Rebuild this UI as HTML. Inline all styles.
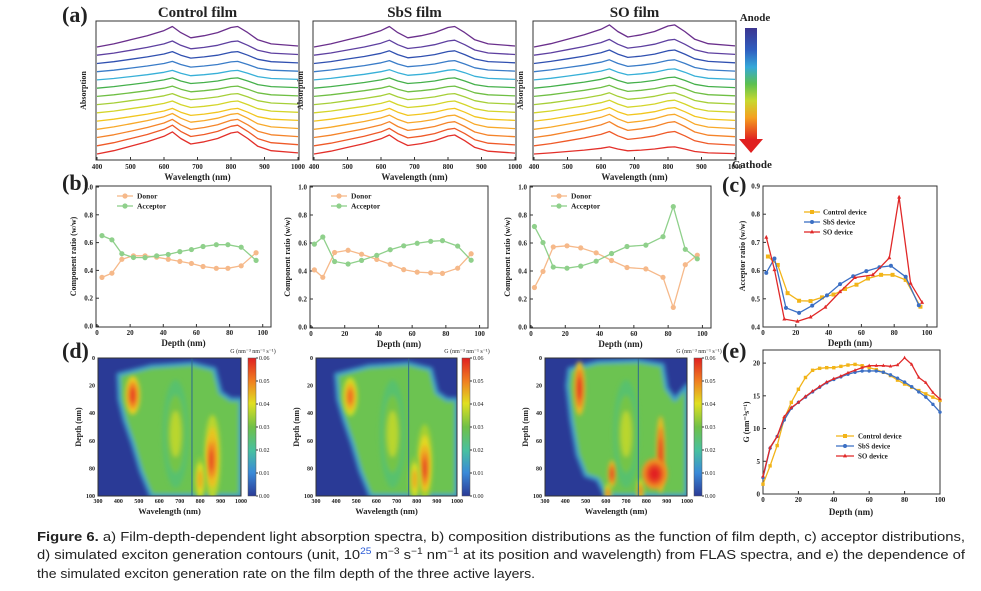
<!DOCTYPE html>
<html><head><meta charset="utf-8"><style>
html,body{margin:0;padding:0;background:#fff;}
svg{display:block;font-family:"Liberation Serif",serif;}
.t{font-weight:bold;fill:#222;}
</style></head><body>
<svg id="fig" width="981" height="591" viewBox="0 0 981 591" xmlns="http://www.w3.org/2000/svg">
<defs>
<linearGradient id="arrowGrad" x1="0" y1="0" x2="0" y2="1">
<stop offset="0" stop-color="#3c3590"/><stop offset="0.2" stop-color="#2f5fc0"/><stop offset="0.35" stop-color="#35a8d8"/><stop offset="0.5" stop-color="#5cc050"/><stop offset="0.65" stop-color="#c8d830"/><stop offset="0.8" stop-color="#f5a020"/><stop offset="1" stop-color="#e02020"/>
</linearGradient>
<linearGradient id="cbGrad" x1="0" y1="1" x2="0" y2="0">
<stop offset="0" stop-color="#2a3a96"/><stop offset="0.17" stop-color="#3a8ad8"/><stop offset="0.33" stop-color="#48c0a0"/><stop offset="0.5" stop-color="#70c048"/><stop offset="0.67" stop-color="#e0e020"/><stop offset="0.83" stop-color="#f08020"/><stop offset="1" stop-color="#e02020"/>
</linearGradient>
<filter id="blur2" x="-20%" y="-20%" width="140%" height="140%"><feGaussianBlur stdDeviation="2"/></filter>
<filter id="blur3" x="-50%" y="-50%" width="200%" height="200%"><feGaussianBlur stdDeviation="2"/></filter>
</defs>
</svg>
<script>
// ---------- DATA ----------
const specWl = [400,450,500,550,600,625,650,680,720,760,800,820,850,880,920,1000];
const specShape = [0,0.15,0.35,0.55,0.8,1.0,0.7,0.45,0.55,0.7,0.95,1.0,0.7,0.35,0.15,0.05];
const specAmpControl = [2.8,2.6,2.3,2.0,1.6,1.5,1.4,1.3,1.3,1.2,1.3,1.5,1.8,2.6];
const specAmpSbS = [2.4,2.2,2.0,1.8,1.6,1.5,1.4,1.3,1.3,1.3,1.4,1.6,1.9,2.6];
const specAmpSO = [0.9,1.8,2.0,1.9,1.7,1.6,1.5,1.4,1.4,1.4,1.5,1.7,2.0,2.8];
const specColors = ["#e3302a","#ef5a28","#f5842a","#f8a92a","#f2c61f","#d4d52a","#a6cf38","#6fbf44","#45b04b","#38b0d8","#3a7cc8","#3050b0","#5e40a0","#6a2f8c"];
const xTicksWl = [400,500,600,700,800,900,1000];

const depthCtrl = [3,9,15,22,29,36,43,50,57,64,72,79,87,96];
const accCtrl = [0.65,0.62,0.52,0.493,0.492,0.505,0.515,0.535,0.55,0.572,0.585,0.585,0.567,0.472];
const donCtrl = [0.35,0.38,0.48,0.505,0.505,0.495,0.48,0.465,0.45,0.428,0.415,0.415,0.433,0.527];
const depthSbS = [2,7,14,22,30,39,47,55,63,71,78,87,95];
const accSbS = [0.592,0.643,0.468,0.45,0.476,0.512,0.552,0.58,0.598,0.612,0.617,0.578,0.477];
const donSbS = [0.408,0.355,0.532,0.548,0.52,0.483,0.448,0.41,0.392,0.387,0.383,0.42,0.523];
const depthSO = [2,7,13,21,29,38,47,56,67,77,83,90,97];
const accSO = [0.718,0.603,0.428,0.42,0.435,0.47,0.525,0.575,0.585,0.645,0.86,0.555,0.487];
const donSO = [0.282,0.397,0.572,0.58,0.565,0.53,0.475,0.425,0.415,0.355,0.14,0.445,0.513];

const genDepth = [0,4,8,12,16,20,24,28,32,36,40,44,48,52,56,60,64,68,72,76,80,84,88,92,96,100];
const genCtrl = [1.5,4.3,7.4,11.5,14,16,17.8,18.9,19.2,19.3,19.3,19.5,19.7,19.8,19.6,19.3,19.0,18.6,18.1,17.4,16.8,16.3,15.8,15.3,14.8,14.3];
const genSbS = [2.5,7.0,8.8,11.3,13.1,14.0,14.8,15.6,16.3,17.0,17.5,17.9,18.3,18.6,18.8,18.8,18.8,18.6,18.2,17.7,17.1,16.4,15.6,14.8,13.7,12.5];
const genSO = [2.7,7.1,8.8,11.8,13.2,14.0,14.9,15.7,16.4,17.1,17.6,18.0,18.5,18.9,19.3,19.6,19.6,19.6,19.5,19.7,20.8,19.8,17.8,17.0,15.5,14.5];

// heatmap: green-region outline [wavelength, depth]; hotspots [wavelength, depth, rWl, rDepth, level]
const heatRegionCtrl = [[400,12],[560,6],[760,4],[870,8],[900,25],[950,30],[1000,30],[1000,100],[560,100],[510,82],[470,62],[430,45],[405,30]];
const heatBlobsCtrl = [[470,27,26,10,0.056],[680,55,45,28,0.036],[860,72,28,22,0.05],[855,74,16,13,0.058],[800,88,20,12,0.046]];
const heatRegionSbS = [[400,12],[560,6],[760,4],[870,8],[900,25],[950,30],[1000,30],[1000,100],[570,100],[520,82],[480,62],[440,45],[410,30]];
const heatBlobsSbS = [[470,28,26,10,0.052],[680,55,45,28,0.036],[840,76,28,20,0.048],[840,80,16,12,0.058],[790,88,20,12,0.046]];
const heatRegionSO = [[420,8],[560,3],[760,2],[880,5],[900,22],[940,30],[1000,20],[1000,100],[600,100],[560,88],[500,85],[460,70],[430,45],[410,20]];
const heatBlobsSO = [[470,22,20,14,0.058],[700,55,45,28,0.036],[870,70,16,20,0.058],[840,84,45,8,0.062],[630,84,14,7,0.058],[770,96,12,6,0.052],[610,98,12,5,0.052]];
const cbTicks = [0.00,0.01,0.02,0.03,0.04,0.05,0.06];
const depthTicks = [0,20,40,60,80,100];

// ---------- HELPERS ----------
const svg = document.getElementById('fig');
const NS = "http://www.w3.org/2000/svg";
function mk(tag, attrs, parent){ const e=document.createElementNS(NS,tag); for(const k in attrs) e.setAttribute(k,attrs[k]); (parent||svg).appendChild(e); return e; }
function txt(x,y,s,size,anchor,parent,extra){ const e=mk('text',Object.assign({x:x,y:y,'font-size':size,'text-anchor':anchor||'middle',class:'t'},extra||{}),parent); e.textContent=s; return e; }
function lin(d0,d1,r0,r1){ return v=> r0+(v-d0)*(r1-r0)/(d1-d0); }
function levelColor(v){
  const stops=[[0,[42,58,150]],[0.01,[58,150,220]],[0.02,[80,192,120]],[0.03,[120,196,64]],[0.04,[228,226,32]],[0.05,[242,128,32]],[0.06,[226,32,32]]];
  if(v<=0) return 'rgb(42,58,150)';
  for(let i=0;i<stops.length-1;i++){ if(v<=stops[i+1][0]){ const t=(v-stops[i][0])/(stops[i+1][0]-stops[i][0]); const c=stops[i][1].map((a,j)=>Math.round(a+(stops[i+1][1][j]-a)*t)); return 'rgb('+c.join(',')+')'; } }
  return 'rgb(226,32,32)';
}

// panel labels
[['(a)',62,22],['(b)',62,190],['(c)',722,192],['(d)',62,358],['(e)',722,358]].forEach(p=>{
  const e=txt(p[1],p[2],p[0],22,'start');
  
  
});

// ---------- PANEL A ----------
function spectraPanel(x0,x1,y0,y1,amps,title,key){
  const g=mk('g',{});
  
  
  const X=lin(400,1000,x0+1,x1-1);
  const base=y1-6, step=(y1-y0-32)/13, unit=7.9;
  specColors.forEach((c,i)=>{
    const pts=specWl.map((w,j)=>X(w)+','+(base-i*step-specShape[j]*amps[i]*unit).toFixed(1)).join(' ');
    const p=mk('polyline',{points:pts,fill:'none',stroke:c,'stroke-width':1.3,'stroke-linejoin':'round'},g);
    
    
  });
  mk('rect',{x:x0,y:y0,width:x1-x0,height:y1-y0,fill:'none',stroke:'#333','stroke-width':1},g);
  xTicksWl.forEach(t=>{ mk('line',{x1:X(t),x2:X(t),y1:y1,y2:y1-3,stroke:'#333'},g); const e=txt(X(t),y1+9,t,7,'middle',g);   });
  const xl=txt((x0+x1)/2,y1+20,'Wavelength (nm)',9,'middle',g);
  
  
  const yl=txt(0,0,'Absorption',8,'middle',g,{transform:'translate('+(x0-10)+','+((y0+y1)/2)+') rotate(-90)'});
  
  
  const tt=txt((x0+x1)/2,y0-4,title,15,'middle',g);
  
  
}
spectraPanel(96,299,21,160,specAmpControl,'Control film','control');
spectraPanel(313,516,21,160,specAmpSbS,'SbS film','sbs');
spectraPanel(533,736,21,160,specAmpSO,'SO film','so');

// anode-cathode arrow
const arr=mk('g',{});


mk('rect',{x:745,y:28,width:12,height:112,fill:'url(#arrowGrad)'},arr);
mk('polygon',{points:'739,139 763,139 751,153',fill:'#e02020'},arr);
const an=txt(755,21,'Anode',11,'middle');  
const ca=txt(752,168,'Cathode',11,'middle');  

function marker(g,shape,x,y,c,r){
  let m;
  if(shape==='sq') m=mk('rect',{x:x-r,y:y-r,width:2*r,height:2*r,fill:c},g);
  else if(shape==='tri') m=mk('polygon',{points:(x)+','+(y-r-0.5)+' '+(x-r)+','+(y+r*0.7)+' '+(x+r)+','+(y+r*0.7),fill:c},g);
  else m=mk('circle',{cx:x,cy:y,r:r,fill:c},g);
  return m;
}
function axesBox(g,x0,x1,y0,y1,X,Y,xt,yt,fmt){
  mk('rect',{x:x0,y:y0,width:x1-x0,height:y1-y0,fill:'none',stroke:'#333','stroke-width':1},g);
  xt.forEach(t=>{ mk('line',{x1:X(t),x2:X(t),y1:y1,y2:y1-3,stroke:'#333'},g); const e=txt(X(t),y1+8,t,7,'middle',g);   });
  yt.forEach(t=>{ mk('line',{x1:x0,x2:x0+3,y1:Y(t),y2:Y(t),stroke:'#333'},g); const e=txt(x0-3,Y(t)+2.5,fmt(t),7,'end',g);   });
}

// ---------- PANEL B ----------
function compPanel(x0,x1,y0,y1,depth,don,acc,key){
  const g=mk('g',{});
  
  
  const X=lin(0,105,x0+1,x1), Y=lin(0,1,y1-1,y0+1);
  axesBox(g,x0,x1,y0,y1,X,Y,[0,20,40,60,80,100],[0,0.2,0.4,0.6,0.8,1.0],t=>t.toFixed(1));
  [[don,'#f6b98a','donor'],[acc,'#8fd08b','acceptor']].forEach(s=>{
    const pl=mk('polyline',{points:depth.map((d,i)=>X(d)+','+Y(s[0][i])).join(' '),fill:'none',stroke:s[1],'stroke-width':1.3},g);
    
    
    depth.forEach((d,i)=>{ const m=marker(g,'c',X(d),Y(s[0][i]),s[1],2.6);   });
  });
  [['Donor','#f6b98a',196],['Acceptor','#8fd08b',206]].forEach(l=>{
    const lg=mk('g',{},g);
    
    
    mk('line',{x1:x0+21,x2:x0+37,y1:l[2],y2:l[2],stroke:l[1],'stroke-width':1.3},lg);
    marker(lg,'c',x0+29,l[2],l[1],2.6);
    txt(x0+41,l[2]+2.5,l[0],7.5,'start',lg);
  });
  const xl=txt((x0+x1)/2,y1+19,'Depth (nm)',9,'middle',g);  
  const yl=txt(0,0,'Component ratio (w/w)',8,'middle',g,{transform:'translate('+(x0-20)+','+((y0+y1)/2)+') rotate(-90)'});  
}
compPanel(96,271,186,327,depthCtrl,donCtrl,accCtrl,'control');
compPanel(310,488,186,328,depthSbS,donSbS,accSbS,'sbs');
compPanel(530,711,186,328,depthSO,donSO,accSO,'so');

// ---------- PANEL C ----------
(function(){
  const x0=763,x1=937,y0=186,y1=327;
  const g=mk('g',{});
  
  
  const X=lin(0,100,x0,927), Y=lin(0.4,0.9,y1,y0);
  axesBox(g,x0,x1,y0,y1,X,Y,[0,20,40,60,80,100],[0.4,0.5,0.6,0.7,0.8,0.9],t=>t.toFixed(1));
  [[depthCtrl,accCtrl,'#f2b418','sq','control'],[depthSbS,accSbS,'#3b6fc4','c','sbs'],[depthSO,accSO,'#e02828','tri','so']].forEach(s=>{
    const pl=mk('polyline',{points:s[0].map((d,i)=>X(d)+','+Y(s[1][i])).join(' '),fill:'none',stroke:s[2],'stroke-width':1.3},g);
    
    
    s[0].forEach((d,i)=>{ const m=marker(g,s[3],X(d),Y(s[1][i]),s[2],2);   });
  });
  [['Control device','#f2b418','sq',212],['SbS device','#3b6fc4','c',222],['SO device','#e02828','tri',232]].forEach(l=>{
    const lg=mk('g',{},g);
    
    
    mk('line',{x1:804,x2:820,y1:l[3],y2:l[3],stroke:l[1],'stroke-width':1.3},lg);
    marker(lg,l[2],812,l[3],l[1],2);
    txt(823,l[3]+2.5,l[0],7,'start',lg);
  });
  const xl=txt(850,346,'Depth (nm)',9,'middle',g);  
  const yl=txt(0,0,'Acceptor ratio (w/w)',8,'middle',g,{transform:'translate(745,256) rotate(-90)'});  
})();

// ---------- PANEL E ----------
(function(){
  const x0=763,x1=940,y0=350,y1=494;
  const g=mk('g',{});
  
  
  const X=lin(0,100,x0,x1), Y=lin(0,22,y1,y0);
  axesBox(g,x0,x1,y0,y1,X,Y,[0,20,40,60,80,100],[0,5,10,15,20],t=>String(t));
  [[genCtrl,'#f2b418','sq','control'],[genSbS,'#3b6fc4','c','sbs'],[genSO,'#e02828','tri','so']].forEach(s=>{
    const pl=mk('polyline',{points:genDepth.map((d,i)=>X(d)+','+Y(s[0][i])).join(' '),fill:'none',stroke:s[1],'stroke-width':1.3},g);
    
    
    genDepth.forEach((d,i)=>{ const m=marker(g,s[2],X(d),Y(s[0][i]),s[1],1.7);   });
  });
  [['Control device','#f2b418','sq',436],['SbS device','#3b6fc4','c',446],['SO device','#e02828','tri',456]].forEach(l=>{
    const lg=mk('g',{},g);
    
    
    mk('line',{x1:836,x2:854,y1:l[3],y2:l[3],stroke:l[1],'stroke-width':1.3},lg);
    marker(lg,l[2],845,l[3],l[1],2);
    txt(858,l[3]+2.5,l[0],7,'start',lg);
  });
  const xl=txt(851,515,'Depth (nm)',9,'middle',g);  
  const yl=txt(0,0,'G (nm⁻³s⁻¹)',8,'middle',g,{transform:'translate(749,422) rotate(-90)'});  
})();

// ---------- PANEL D ----------
function heatPanel(x0,x1,y0,y1,cbx,region,blobs,key){
  const g=mk('g',{});
  
  
  const X=lin(300,1000,x0,x1), Y=lin(0,100,y0,y1);
  const cid='clip-'+key;
  const cp=mk('clipPath',{id:cid},g); mk('rect',{x:x0,y:y0,width:x1-x0,height:y1-y0},cp);
  const inner=mk('g',{'clip-path':'url(#'+cid+')'},g);
  mk('rect',{x:x0,y:y0,width:x1-x0,height:y1-y0,fill:levelColor(0)},inner);
  const reg=mk('polygon',{points:region.map(p=>X(p[0])+','+Y(p[1])).join(' '),fill:levelColor(0.027),stroke:levelColor(0.012),'stroke-width':4,'stroke-linejoin':'round',filter:'url(#blur2)'},inner);
  
  
  blobs.forEach(b=>{
    const hg=mk('g',{filter:'url(#blur3)'},inner);
    
    
    const rx=X(b[0]+b[2])-X(b[0]), ry=Y(b[3])-Y(0);
    [[1.4,-0.014],[1.0,-0.007],[0.6,0]].forEach(s=>{
      mk('ellipse',{cx:X(b[0]),cy:Y(b[1]),rx:rx*s[0],ry:ry*s[0],fill:levelColor(b[4]+s[1])},hg);
    });
  });
  mk('line',{x1:X(760),x2:X(760),y1:y0,y2:y1,stroke:'#2e6a90','stroke-width':1},inner);
  mk('rect',{x:x0,y:y0,width:x1-x0,height:y1-y0,fill:'none',stroke:'#333'},g);
  [300,400,500,600,700,800,900,1000].forEach(t=>{ const e=txt(X(t),y1+7,t,6,'middle',g);   });
  depthTicks.forEach(t=>{ const e=txt(x0-3,Y(t)+2,t,6,'end',g);   });
  const xl=txt((x0+x1)/2,y1+18,'Wavelength (nm)',8.5,'middle',g);  
  const yl=txt(0,0,'Depth (nm)',8,'middle',g,{transform:'translate('+(x0-17)+','+((y0+y1)/2)+') rotate(-90)'});  
  const cb=mk('rect',{x:cbx,y:y0,width:8,height:y1-y0,fill:'url(#cbGrad)',stroke:'#555','stroke-width':0.5},g);
  
  
  const CY=lin(0,0.06,y1,y0);
  cbTicks.forEach(t=>{ mk('line',{x1:cbx+8,x2:cbx+10,y1:CY(t),y2:CY(t),stroke:'#333'},g); const e=mk('text',{x:cbx+11,y:CY(t)+2,'font-size':6,fill:'#222'},g); e.textContent=t.toFixed(2);   });
  const ct=mk('text',{x:cbx+5,y:y0-5,'font-size':6,'text-anchor':'middle',fill:'#222'},g);
  ct.textContent='G (nm⁻³ nm⁻¹ s⁻¹)';
  
  
}
heatPanel(98,241,358,496,248,heatRegionCtrl,heatBlobsCtrl,'control');
heatPanel(316,457,358,496,462,heatRegionSbS,heatBlobsSbS,'sbs');
heatPanel(545,687,358,496,694,heatRegionSO,heatBlobsSO,'so');

// ---------- CAPTION ----------
const cap=mk('g',{'font-family':'"Liberation Sans",sans-serif','font-size':13,fill:'#222'});


const c1=mk('text',{x:37,y:541,textLength:928,lengthAdjust:'spacingAndGlyphs'},cap);
c1.innerHTML='<tspan font-weight="bold">Figure 6.</tspan> a) Film-depth-dependent light absorption spectra, b) composition distributions as the function of film depth, c) acceptor distributions,';
const c2=mk('text',{x:37,y:559,textLength:928,lengthAdjust:'spacingAndGlyphs'},cap);
c2.innerHTML='d) simulated exciton generation contours (unit, 10<tspan dy="-5" font-size="9" fill="#2a5bd7">25</tspan><tspan dy="5"> m</tspan><tspan dy="-5" font-size="9">−3</tspan><tspan dy="5"> s</tspan><tspan dy="-5" font-size="9">−1</tspan><tspan dy="5"> nm</tspan><tspan dy="-5" font-size="9">−1</tspan><tspan dy="5"> at its position and wavelength) from FLAS spectra, and e) the dependence of</tspan>';
const c3=mk('text',{x:37,y:578,textLength:498,lengthAdjust:'spacingAndGlyphs'},cap);
c3.textContent='the simulated exciton generation rate on the film depth of the three active layers.';
</script>
</body></html>
